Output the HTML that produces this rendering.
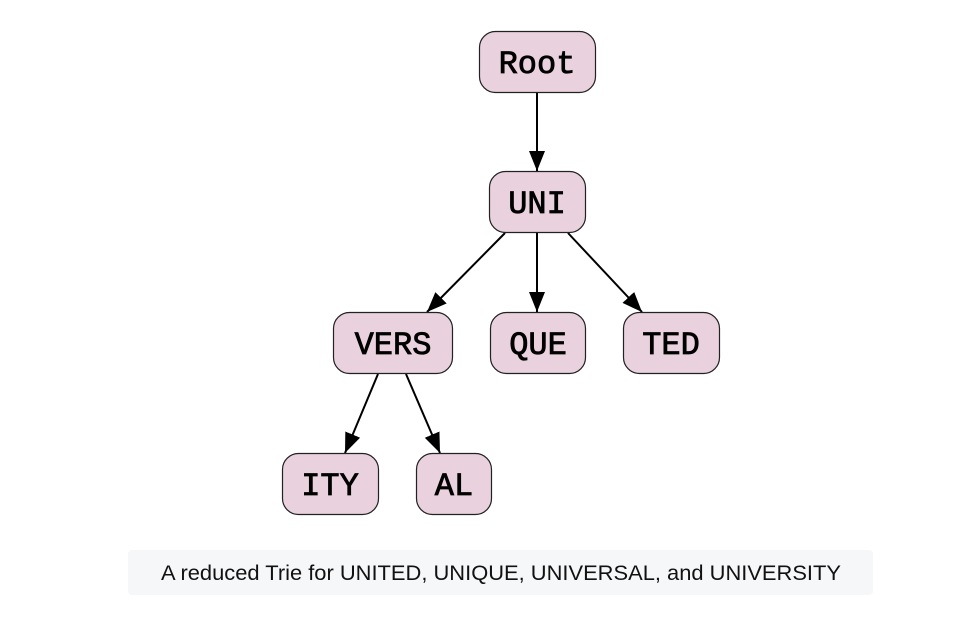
<!DOCTYPE html>
<html><head><style>
body{margin:0;background:#fff;width:964px;height:614px;overflow:hidden}
</style></head><body>
<svg width="964" height="614" xmlns="http://www.w3.org/2000/svg">
<defs>
<marker id="b" markerWidth="20" markerHeight="16" refX="20" refY="8" orient="auto" markerUnits="userSpaceOnUse" viewBox="0 0 20 16"><path d="M0,0 L20,8 L0,16 z" fill="#000"/></marker></defs>
<g stroke="#000" stroke-width="2" fill="none">
<line x1="537" y1="92" x2="537" y2="171" marker-end="url(#b)"/>
<line x1="505" y1="233" x2="427" y2="312" marker-end="url(#b)"/>
<line x1="537" y1="233" x2="537" y2="312" marker-end="url(#b)"/>
<line x1="568" y1="233" x2="642" y2="312" marker-end="url(#b)"/>
<line x1="378" y1="374" x2="345" y2="453" marker-end="url(#b)"/>
<line x1="406" y1="374" x2="440" y2="453" marker-end="url(#b)"/>
</g>
<g fill="#e9d1de" stroke="#222" stroke-width="1.2">
<rect x="479.5" y="31.5" width="116" height="61" rx="16"/>
<rect x="489.5" y="171.5" width="96" height="61" rx="16"/>
<rect x="333.5" y="312.5" width="119" height="61" rx="16"/>
<rect x="490.5" y="312.5" width="95" height="61" rx="16"/>
<rect x="623.5" y="312.5" width="96" height="61" rx="16"/>
<rect x="282.5" y="453.5" width="96" height="61" rx="16"/>
<rect x="416.5" y="453.5" width="75" height="61" rx="16"/>
</g>
<g font-family="Liberation Mono, monospace" font-size="32" text-anchor="middle" fill="#000" stroke="#000" stroke-width="0.8">
<text x="537" y="73">Root</text>
<text x="537" y="213">UNI</text>
<text x="393" y="354">VERS</text>
<text x="538" y="354">QUE</text>
<text x="671" y="354">TED</text>
<text x="330" y="495">ITY</text>
<text x="454" y="495">AL</text>
</g>
<rect x="128" y="550" width="745" height="45" rx="4" fill="#f6f7f9"/>
<text x="501" y="580" font-family="Liberation Sans, sans-serif" font-size="21.5" text-anchor="middle" fill="#111" textLength="680" lengthAdjust="spacingAndGlyphs">A reduced Trie for UNITED, UNIQUE, UNIVERSAL, and UNIVERSITY</text>
</svg>
</body></html>
